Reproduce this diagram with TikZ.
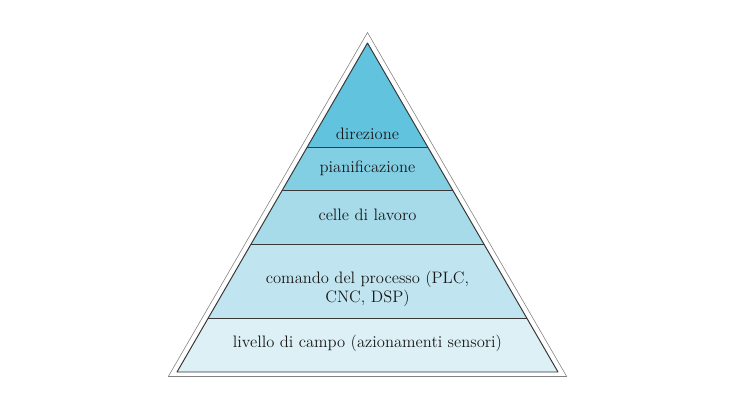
\documentclass[tikz,border=0pt]{standalone}
\usepackage{tkz-euclide}
\usetikzlibrary{calc}
\definecolor{LvlA}{rgb}{0.384,0.765,0.875}
\definecolor{LvlB}{rgb}{0.510,0.812,0.894}
\definecolor{LvlC}{rgb}{0.655,0.859,0.918}
\definecolor{LvlD}{rgb}{0.757,0.898,0.941}
\definecolor{LvlE}{rgb}{0.863,0.941,0.965}
\definecolor{EdgeClr}{rgb}{0.22,0.22,0.22}
\definecolor{TxtClr}{rgb}{0.1,0.1,0.1}

\begin{document}
\begin{tikzpicture}[lvltext/.style={text=TxtClr,font=\fontsize{11.8}{13.5}\selectfont,align=center}]
\useasboundingbox[fill=white] (0,0) rectangle (18.375,10.325);
\tkzSetUpLine[line width=0.6pt,color=EdgeClr]

\tkzDefPoints{9.1875/9.5125/P,4.2075/0.9125/Q,14.1675/0.9125/R}
\tkzDefPoints{9.1875/9.25/A,4.425/1.025/B,13.95/1.025/C}

% band corners on the inner sides
\coordinate (L1) at ($(A)!0.3161!(B)$);
\coordinate (R1) at ($(A)!0.3161!(C)$);
\coordinate (L2) at ($(A)!0.4468!(B)$);
\coordinate (R2) at ($(A)!0.4468!(C)$);
\coordinate (L3) at ($(A)!0.6109!(B)$);
\coordinate (R3) at ($(A)!0.6109!(C)$);
\coordinate (L4) at ($(A)!0.8359!(B)$);
\coordinate (R4) at ($(A)!0.8359!(C)$);

\tkzFillPolygon[fill=LvlA](A,L1,R1)
\tkzFillPolygon[fill=LvlB](L1,L2,R2,R1)
\tkzFillPolygon[fill=LvlC](L2,L3,R3,R2)
\tkzFillPolygon[fill=LvlD](L3,L4,R4,R3)
\tkzFillPolygon[fill=LvlE](L4,B,C,R4)

\tkzDrawSegments(L1,R1 L2,R2 L3,R3 L4,R4)
\tkzDrawPolygon[line width=0.7pt](A,B,C)
\tkzDrawPolygon[line width=0.4pt,color=gray](P,Q,R)

\node[lvltext] (dir) at (9.1875,6.99) {direzione};
\node[lvltext] (pian) at (9.1875,6.13) {pianificazione};
\node[lvltext] (celle) at (9.1875,4.95) {celle di lavoro};
\node[lvltext] (cmd) at (9.1875,3.105) {comando del processo (PLC,\\ CNC, DSP)};
\node[lvltext] (campo) at (9.1875,1.74) {livello di campo (azionamenti sensori)};

\end{tikzpicture}
\end{document}
